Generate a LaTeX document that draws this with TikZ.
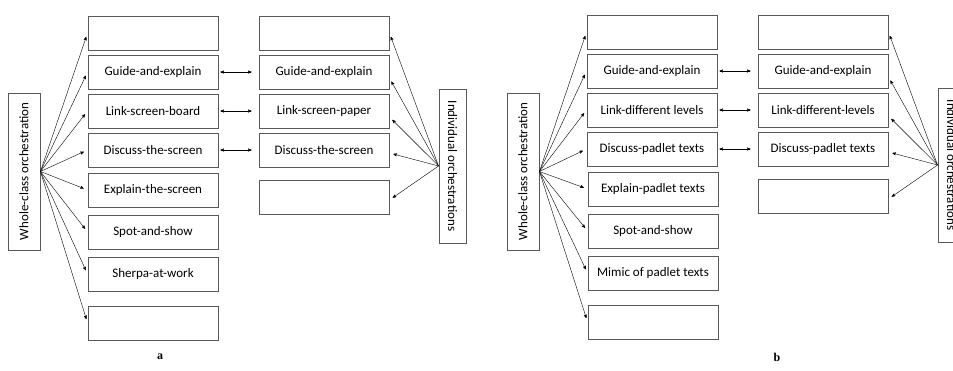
\documentclass[tikz,border=0pt]{standalone}
\usepackage{fontspec}
\setmainfont{Carlito}
\newfontfamily\capfont{Liberation Serif}
\usetikzlibrary{arrows,positioning,calc}

\begin{document}
\begin{tikzpicture}[x=1pt, y=-1pt, >=stealth', semithick]
\tikzstyle{every node}=[font=\fontsize{13}{15}\selectfont]
\tikzstyle{orch}=[draw=black!65, line width=0.9pt, minimum width=130pt, minimum height=34pt, inner sep=0pt]
\tikzstyle{side}=[draw=black!65, line width=0.9pt, inner sep=0pt]
\tikzstyle{fan}=[->, thin, shorten >=4pt]
\tikzstyle{pair}=[<->, thin, shorten <=2pt, shorten >=7pt]
\clip (0,0) rectangle (953,371);
\fill[white] (0,0) rectangle (953,371);

% panel a
\node[side, minimum width=157pt, minimum height=32pt, rotate=90] (wcA) at (24,171.5) {Whole-class orchestration};
\node[side, minimum width=154pt, minimum height=27pt, rotate=-90] (inA) at (452.5,166) {Individual orchestrations};
\node[orch] (lA1) at (153,33)  {};
\node[orch] (lA2) at (153,72)  {Guide-and-explain};
\node[orch] (lA3) at (153,111) {Link-screen-board};
\node[orch] (lA4) at (153,150) {Discuss-the-screen};
\node[orch] (lA5) at (153,190) {Explain-the-screen};
\node[orch] (lA6) at (153,232) {Spot-and-show};
\node[orch] (lA7) at (153,274) {Sherpa-at-work};
\node[orch] (lA8) at (153,323) {};
\node[orch] (rA1) at (324,33)  {};
\node[orch] (rA2) at (324,72)  {Guide-and-explain};
\node[orch] (rA3) at (324,111) {Link-screen-paper};
\node[orch] (rA4) at (324,150) {Discuss-the-screen};
\node[orch] (rA5) at (324,197) {};
\foreach \i in {1,...,8}
  \draw[fan] (wcA.south) -- (lA\i.west);
\foreach \i in {2,3,4}
  \draw[pair] (lA\i.east) -- (rA\i.west);
\draw[fan] (inA.south) -- (rA1.east);
\draw[fan] (inA.south) -- ([yshift=-6pt]rA2.east);
\draw[fan] (inA.south) -- ([yshift=-6pt]rA3.east);
\draw[fan] (inA.south) -- ([yshift=-3pt]rA4.east);
\draw[fan] (inA.south) -- ([yshift=-3pt]rA5.east);
\node[font=\capfont\bfseries\fontsize{12}{14}\selectfont] (capA) at (160,357) {a};

% panel b
\node[side, minimum width=157pt, minimum height=32pt, rotate=90] (wcB) at (523,171.5) {Whole-class orchestration};
\node[side, minimum width=154pt, minimum height=27pt, rotate=-90] (inB) at (951.5,165) {Individual orchestrations};
\node[orch] (lB1) at (652,32)  {};
\node[orch] (lB2) at (652,71)  {Guide-and-explain};
\node[orch] (lB3) at (652,110) {Link-different levels};
\node[orch] (lB4) at (652,149) {Discuss-padlet texts};
\node[orch] (lB5) at (653,189) {Explain-padlet texts};
\node[orch] (lB6) at (653,231) {Spot-and-show};
\node[orch] (lB7) at (653,273) {Mimic of padlet texts};
\node[orch] (lB8) at (653,322) {};
\node[orch] (rB1) at (823,32)  {};
\node[orch] (rB2) at (823,71)  {Guide-and-explain};
\node[orch] (rB3) at (823,110) {Link-different-levels};
\node[orch] (rB4) at (823,149) {Discuss-padlet texts};
\node[orch] (rB5) at (823,196) {};
\foreach \i in {1,...,8}
  \draw[fan] (wcB.south) -- (lB\i.west);
\foreach \i in {2,3,4}
  \draw[pair] (lB\i.east) -- (rB\i.west);
\draw[fan] (inB.south) -- (rB1.east);
\draw[fan] (inB.south) -- ([yshift=-6pt]rB2.east);
\draw[fan] (inB.south) -- ([yshift=-6pt]rB3.east);
\draw[fan] (inB.south) -- ([yshift=-3pt]rB4.east);
\draw[fan] (inB.south) -- ([yshift=-3pt]rB5.east);
\node[font=\capfont\bfseries\fontsize{12}{14}\selectfont] (capB) at (777,357) {b};
\end{tikzpicture}
\end{document}
